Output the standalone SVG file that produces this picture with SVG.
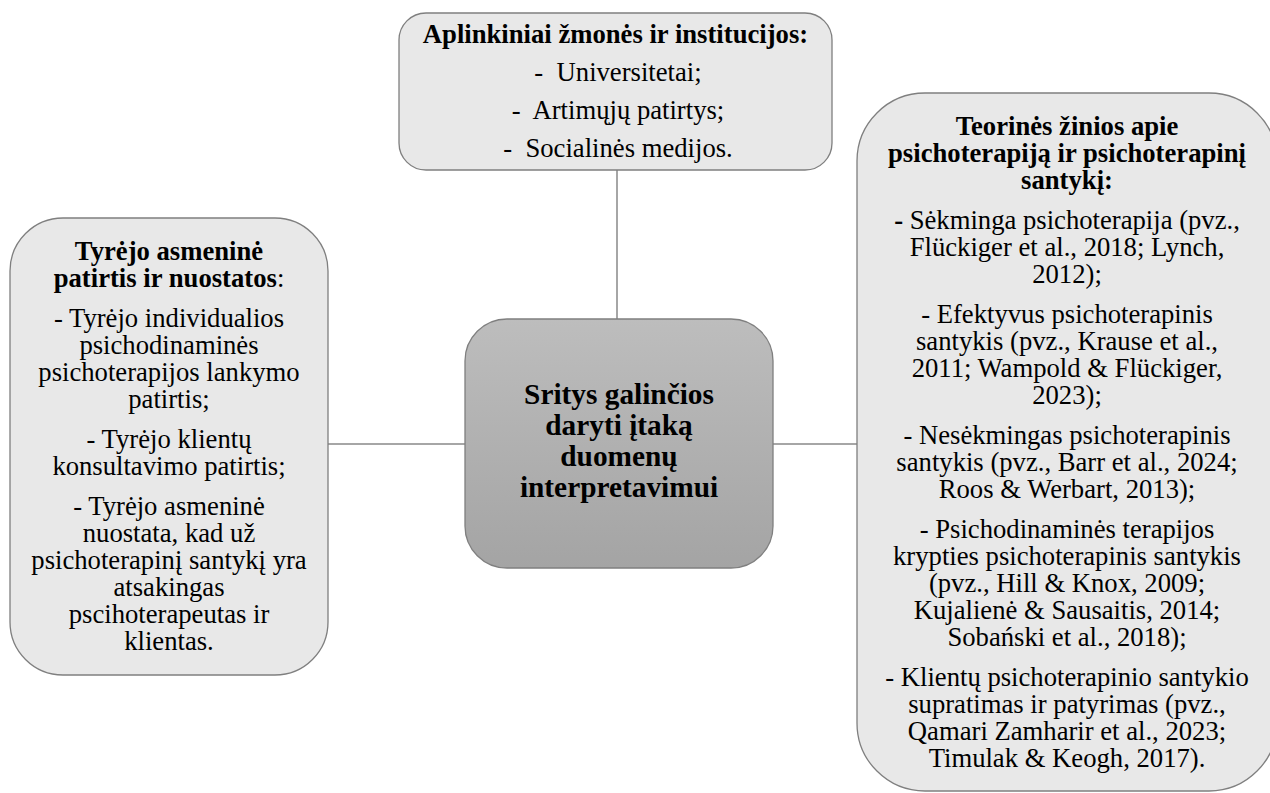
<svg xmlns="http://www.w3.org/2000/svg" width="1270" height="793" viewBox="0 0 1270 793">
<style>
.box{fill:#e8e8e8;stroke:#7f7f7f;stroke-width:1.3}
.conn{stroke:#a6a6a6;stroke-width:2;fill:none}
text{font-family:"Liberation Serif","Times New Roman",serif;fill:#000;text-anchor:middle}
.t{font-size:26.67px}
.b{font-weight:bold}
.c{font-size:29.33px;font-weight:bold}
</style>
<defs>
<linearGradient id="cg" x1="0" y1="0" x2="0" y2="1">
<stop offset="0" stop-color="#bdbdbd"/>
<stop offset="1" stop-color="#a4a4a4"/>
</linearGradient>
</defs>
<rect width="1270" height="793" fill="#ffffff"/>
<g id="connectors">
<line class="conn" x1="617" y1="170" x2="617" y2="319"/>
<line class="conn" x1="328" y1="444" x2="465" y2="444"/>
<line class="conn" x1="773" y1="444" x2="857" y2="444"/>
</g>
<g id="node-top">
<rect class="box" x="399" y="13" width="433" height="157" rx="27" ry="27"/>
<text class="t" xml:space="preserve"><tspan class="b" x="615.5" y="43">Aplinkiniai žmonės ir institucijos:</tspan><tspan x="618" y="81">-  Universitetai;</tspan><tspan x="618" y="119">-  Artimųjų patirtys;</tspan><tspan x="618" y="157">-  Socialinės medijos.</tspan></text>
</g>
<g id="node-left">
<rect class="box" x="10" y="218" width="318" height="457" rx="53" ry="53"/>
<text class="t"><tspan class="b" x="169" y="260">Tyrėjo asmeninė</tspan><tspan x="169" y="287"><tspan class="b">patirtis ir nuostatos</tspan>:</tspan><tspan x="169" y="327">- Tyrėjo individualios</tspan><tspan x="169" y="354">psichodinaminės</tspan><tspan x="169" y="381">psichoterapijos lankymo</tspan><tspan x="169" y="408">patirtis;</tspan><tspan x="169" y="448">- Tyrėjo klientų</tspan><tspan x="169" y="475">konsultavimo patirtis;</tspan><tspan x="169" y="515">- Tyrėjo asmeninė</tspan><tspan x="169" y="542">nuostata, kad už</tspan><tspan x="169" y="569">psichoterapinį santykį yra</tspan><tspan x="169" y="596">atsakingas</tspan><tspan x="169" y="623">pscihoterapeutas ir</tspan><tspan x="169" y="650">klientas.</tspan></text>
</g>
<g id="node-center">
<rect x="465" y="319" width="308" height="249" rx="42" ry="42" fill="url(#cg)" stroke="#7f7f7f" stroke-width="1.3"/>
<text class="c"><tspan x="619" y="404">Sritys galinčios</tspan><tspan x="619" y="435">daryti įtaką</tspan><tspan x="619" y="466">duomenų</tspan><tspan x="619" y="497">interpretavimui</tspan></text>
</g>
<g id="node-right">
<rect class="box" x="857" y="93" width="420" height="698" rx="68" ry="68"/>
<text class="t"><tspan class="b" x="1067" y="135">Teorinės žinios apie</tspan><tspan class="b" x="1067" y="162">psichoterapiją ir psichoterapinį</tspan><tspan class="b" x="1067" y="189">santykį:</tspan><tspan x="1067" y="229"><tspan class="b">-</tspan> Sėkminga psichoterapija (pvz.,</tspan><tspan x="1067" y="256">Flückiger et al., 2018; Lynch,</tspan><tspan x="1067" y="283">2012);</tspan><tspan x="1067" y="323">- Efektyvus psichoterapinis</tspan><tspan x="1067" y="350">santykis (pvz., Krause et al.,</tspan><tspan x="1067" y="377">2011; Wampold &amp; Flückiger,</tspan><tspan x="1067" y="404">2023);</tspan><tspan x="1067" y="444">- Nesėkmingas psichoterapinis</tspan><tspan x="1067" y="471">santykis (pvz., Barr et al., 2024;</tspan><tspan x="1067" y="498">Roos &amp; Werbart, 2013);</tspan><tspan x="1067" y="538">- Psichodinaminės terapijos</tspan><tspan x="1067" y="565">krypties psichoterapinis santykis</tspan><tspan x="1067" y="592">(pvz., Hill &amp; Knox, 2009;</tspan><tspan x="1067" y="619">Kujalienė &amp; Sausaitis, 2014;</tspan><tspan x="1067" y="646">Sobański et al., 2018);</tspan><tspan x="1067" y="686">- Klientų psichoterapinio santykio</tspan><tspan x="1067" y="713">supratimas ir patyrimas (pvz.,</tspan><tspan x="1067" y="740">Qamari Zamharir et al., 2023;</tspan><tspan x="1067" y="767">Timulak &amp; Keogh, 2017).</tspan></text>
</g>
</svg>
